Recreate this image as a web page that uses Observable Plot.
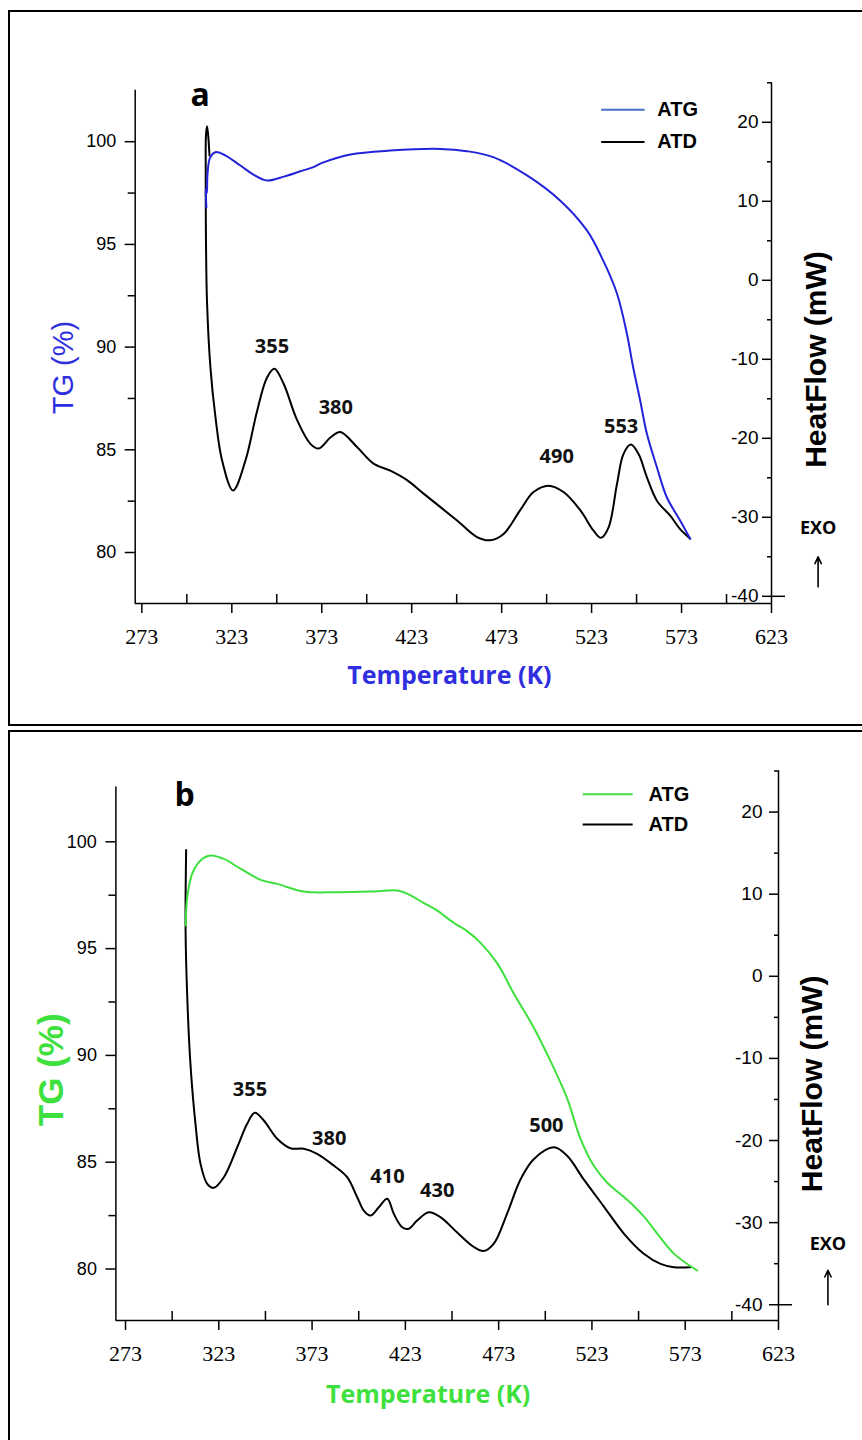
<!DOCTYPE html>
<html><head><meta charset="utf-8">
<script src="https://cdn.jsdelivr.net/npm/d3@7"></script>
<script src="https://cdn.jsdelivr.net/npm/@observablehq/plot@0.6"></script>
<style>
html,body{margin:0;padding:0;background:#fff;width:862px;height:1440px;overflow:hidden;}
.box{position:absolute;border:2px solid #000;box-sizing:border-box;}
.panel{position:absolute;left:0;}
</style></head><body>
<div class="box" style="left:8px;top:10px;width:900px;height:716px"></div>
<div class="box" style="left:8px;top:730px;width:900px;height:800px"></div>
<div id="a" class="panel" style="top:0"></div>
<div id="b" class="panel" style="top:728px"></div>
<script>
// ---------- data ----------
const xMajorTicks = [273, 323, 373, 423, 473, 523, 573, 623];
const xMinorTicks = [298, 348, 398, 448, 498, 548, 598];
const tgMajorTicks = [80, 85, 90, 95, 100];
const tgMinorTicks = [82.5, 87.5, 92.5, 97.5];
const hfMajorTicks = [20, 10, 0, -10, -20, -30, -40];
const hfMinorTicks = [25, 15, 5, -5, -15, -25, -35];
const seriesNames = ["ATG", "ATD"];

// panel a : [T (K), TG (%)]
const atgA = [[308.9,96.8],[308.5,97.7],[309.1,97.5],[309.4,98.3],[310.2,99.0],[311.1,99.26],[313.9,99.49],[319,99.35],[327.8,98.84],[335,98.4],[342.6,98.11],[352,98.3],[361.1,98.56],[368,98.75],[373.2,98.97],[388.9,99.38],[411.1,99.57],[438.9,99.65],[453.7,99.54],[468.3,99.25],[487.1,98.36],[505.6,97.13],[520.4,95.68],[529.4,94.22],[537.1,92.61],[542.6,90.66],[546.1,89.02],[550.0,87.40],[553.7,85.79],[559.3,84.15],[564.8,82.69],[572.2,81.56],[577.8,80.67]];
// panel a : [T (K), HeatFlow (mW)]
const atdA = [[310.6,15.8],[309.8,18.5],[309.2,19.5],[308.6,18.2],[308.5,14],[308.5,10.1],[308.7,3.8],[309.2,-2.6],[311.1,-11.0],[313.9,-17.3],[317.6,-22.8],[323.7,-26.6],[330.6,-22.8],[337.1,-16.5],[342.6,-12.3],[346.7,-11.2],[351.8,-13.1],[359.3,-17.7],[366.7,-20.7],[371.3,-21.3],[377.8,-19.9],[383.3,-19.2],[392.6,-21.1],[401.8,-23.2],[411.1,-24.1],[420.4,-25.3],[429.6,-27.0],[448.2,-30.4],[459.3,-32.5],[466.7,-32.9],[474.1,-32.1],[483.3,-29.1],[490.7,-26.8],[499.1,-26.0],[507.4,-26.8],[516.7,-29.1],[524.1,-31.7],[528.2,-32.6],[532.4,-31.3],[537.1,-25.8],[540.7,-22.0],[544.8,-20.8],[549.1,-22.0],[553.7,-24.9],[559.3,-27.9],[566.7,-29.8],[572.2,-31.5],[577.8,-32.7]];
// peak labels a : [T, HF, label]
const peaksA = [[345.3,-9.2,"355"],[380.8,-16.9,"380"],[503.6,-23.1,"490"],[539.4,-19.3,"553"]];

// panel b
const atgB = [[305.2,96.08],[306.1,97.41],[308.7,98.50],[313.2,99.13],[318.6,99.36],[325.7,99.20],[334.6,98.74],[345.4,98.22],[354.3,98.03],[368.6,97.67],[386.5,97.64],[404.3,97.67],[418.6,97.72],[424.0,97.57],[432.9,97.13],[440.1,96.78],[449.0,96.20],[456.1,95.82],[463.3,95.27],[472.2,94.32],[481.1,92.90],[491.8,91.31],[500.8,89.73],[509.7,87.99],[516.9,86.09],[524.0,84.83],[531.2,84.04],[541.9,83.24],[550.8,82.46],[558.0,81.66],[566.9,80.72],[579.4,79.93]];
const atdB = [[305.5,15.38],[305.2,5.58],[306.1,-2.55],[307.8,-10.66],[310.5,-17.97],[313.2,-22.84],[316.8,-25.27],[320.3,-25.76],[325.7,-24.47],[332.9,-20.82],[338.2,-17.97],[342.3,-16.63],[347.1,-17.56],[354.3,-19.79],[361.4,-20.94],[368.6,-21.01],[375.7,-21.62],[384.6,-23.05],[391.8,-24.47],[397.2,-26.91],[400.7,-28.53],[404.3,-29.14],[408.8,-28.12],[413.3,-27.10],[416.8,-28.93],[421.3,-30.56],[424.8,-30.75],[429.3,-29.74],[435.6,-28.73],[441.8,-29.34],[450.8,-31.21],[459.7,-32.97],[465.0,-33.46],[470.4,-32.56],[477.6,-28.86],[484.7,-24.74],[491.8,-22.27],[502.6,-20.83],[509.7,-21.86],[518.6,-24.74],[529.4,-28.04],[540.1,-31.33],[550.8,-33.79],[559.8,-35.03],[566.9,-35.43],[575.8,-35.43]];
const peaksB = [[339.7,-14.6,"355"],[382.2,-20.6,"380"],[413.4,-25.2,"410"],[440.1,-26.9,"430"],[498.6,-19.0,"500"]];

// ---------- drawing ----------
const SANS = "'Liberation Sans', Arial, sans-serif";
const SERIF = "'Liberation Serif', 'Times New Roman', serif";
const OPEN = "'Open Sans', 'Liberation Sans', sans-serif";

function panel(o) {
  const hf2tg = d3.scaleLinear().domain(o.hfDomain).range(o.tgDomain);
  const xMin = o.xDomain[0], xMax = o.xDomain[1], yMin = o.tgDomain[0];
  const ax = {stroke: "#000", strokeWidth: 1.5};
  const legendRows = seriesNames.map((n, i) => ({name: n, hf: o.legend.hf[i], color: i === 0 ? o.legendColor : "#000"}));
  return Plot.plot({
    width: 862, height: o.height,
    marginTop: o.mt, marginBottom: o.mb, marginLeft: o.ml, marginRight: o.mr,
    x: {domain: o.xDomain},
    y: {domain: o.tgDomain},
    style: {background: "transparent", overflow: "visible", color: "#000"},
    marks: [
      // axis lines
      Plot.ruleY([yMin], ax),
      Plot.ruleX([xMin], {y1: yMin, y2: o.leftTop, ...ax}),
      Plot.ruleX([xMax], ax),
      // x axis
      Plot.axisX({ticks: xMajorTicks, anchor: "bottom", tickSize: 10, tickPadding: o.xPad, fontSize: 22, fontFamily: SERIF, tickFormat: d => String(d), label: null, strokeWidth: 1.5}),
      Plot.axisX({ticks: xMinorTicks, anchor: "bottom", tickSize: 9, dy: -9, tickFormat: () => "", label: null, strokeWidth: 1.5}),
      // left axis
      Plot.axisY({ticks: tgMajorTicks, anchor: "left", tickSize: 10, tickPadding: o.yPad, fontSize: 18, fontFamily: SANS, tickFormat: d => String(d), label: null, strokeWidth: 1.5}),
      Plot.axisY({ticks: tgMinorTicks, anchor: "left", tickSize: 7, tickFormat: () => "", label: null, strokeWidth: 1.5}),
      // right axis (heat flow)
      Plot.axisY({ticks: hfMajorTicks.map(hf2tg), anchor: "right", tickSize: 10, dx: -10, tickFormat: () => "", label: null, strokeWidth: 1.5}),
      Plot.axisY({ticks: hfMinorTicks.map(hf2tg), anchor: "right", tickSize: 5, dx: -5, tickFormat: () => "", label: null, strokeWidth: 1.5}),
      Plot.axisY({ticks: [hf2tg(-40)], anchor: "right", tickSize: 13, tickFormat: () => "", label: null, strokeWidth: 1.5}),
      Plot.axisY({ticks: hfMajorTicks.map(hf2tg), anchor: "right", tickSize: 0, tickPadding: 0, dx: -o.rPad, textAnchor: "end", fontSize: 19, fontFamily: SANS, tickFormat: d => String(Math.round(hf2tg.invert(d))), label: null}),
      // curves
      Plot.line(o.atd, {x: d => d[0], y: d => hf2tg(d[1]), stroke: "#000", strokeWidth: 2, curve: "catmull-rom"}),
      Plot.line(o.atg, {x: d => d[0], y: d => d[1], stroke: o.color, strokeWidth: 2, curve: "catmull-rom"}),
      // peak labels
      Plot.text(o.peaks, {x: d => d[0], y: d => hf2tg(d[1]), text: d => d[2], lineAnchor: "bottom", fontSize: 20, fontWeight: 700, fontFamily: OPEN, fill: "#111"}),
      // legend
      Plot.ruleY(legendRows, {x1: o.legend.x1, x2: o.legend.x2, y: d => hf2tg(d.hf), stroke: d => d.color, strokeWidth: 2}),
      Plot.text(legendRows, {x: o.legend.xt, y: d => hf2tg(d.hf), text: "name", textAnchor: "start", lineAnchor: "middle", fontSize: 20, fontWeight: 700, fontFamily: SANS, fill: "#000"}),
      // panel letter
      Plot.text([o.letter], {x: o.letterPos[0], y: hf2tg(o.letterPos[1]), text: d => d, textAnchor: "start", lineAnchor: "bottom", fontSize: 32, fontWeight: 700, fontFamily: OPEN}),
      // EXO
      Plot.text(["EXO"], {x: o.exo[0], y: hf2tg(o.exo[1]), text: d => d, lineAnchor: "middle", fontSize: 18, fontWeight: 700, fontFamily: OPEN}),
      Plot.arrow([0], {x1: o.exo[0], x2: o.exo[0], y1: hf2tg(o.exo[2]), y2: hf2tg(o.exo[3]), stroke: "#000", strokeWidth: 1.6, headLength: 7, headAngle: 50}),
      // axis titles
      Plot.text(["TG (%)"], {frameAnchor: "left", dx: o.tgTitle.dx, dy: o.tgTitle.dy, rotate: -90, lineAnchor: "middle", textAnchor: "middle", fontSize: o.tgTitle.size, fontWeight: o.tgTitle.weight, fontFamily: SANS, fill: o.textColor}),
      Plot.text(["HeatFlow (mW)"], {frameAnchor: "right", dx: o.hfTitle.dx, dy: o.hfTitle.dy, rotate: -90, lineAnchor: "middle", textAnchor: "middle", fontSize: 30, fontWeight: 700, fontFamily: SANS, fill: "#000"}),
      Plot.text(["Temperature (K)"], {frameAnchor: "bottom", dx: o.tTitle.dx, dy: o.tTitle.dy, lineAnchor: "middle", textAnchor: "middle", fontSize: 25, fontWeight: 700, fontFamily: OPEN, fill: o.textColor})
    ]
  });
}

document.getElementById("a").append(panel({
  height: 724, mt: 83, mb: 121, ml: 134.7, mr: 91,
  xDomain: [269.3, 623], tgDomain: [77.517, 102.834], hfDomain: [-40.91, 24.91], leftTop: 102.5,
  xPad: 15, yPad: 9, rPad: 13,
  atg: atgA, atd: atdA, peaks: peaksA, color: "#2323da", legendColor: "#4472c4", textColor: "#2f2fe0",
  legend: {x1: 528.6, x2: 552.7, xt: 559.5, hf: [21.6, 17.5]},
  letter: "a", letterPos: [300, 22.1],
  exo: [648.9, -31.4, -38.8, -35.0],
  tgTitle: {dx: -71, dy: 24, size: 29, weight: 400},
  hfTitle: {dx: 45, dy: 16},
  tTitle: {dx: -4, dy: 72}
}));

document.getElementById("b").append(panel({
  height: 712, mt: 42.6, mb: 120, ml: 115.4, mr: 84,
  xDomain: [267.85, 623], tgDomain: [77.589, 103.31], hfDomain: [-41.92, 24.99], leftTop: 102.56,
  xPad: 15, yPad: 9, rPad: 16,
  atg: atgB, atd: atdB, peaks: peaksB, color: "#3ee03e", legendColor: "#44dd44", textColor: "#3ee03e",
  legend: {x1: 518.3, x2: 545.1, xt: 553.3, hf: [22.17, 18.49]},
  letter: "b", letterPos: [299.3, 20.8],
  exo: [649.5, -32.6, -40.0, -35.8],
  tgTitle: {dx: -64, dy: 24, size: 35, weight: 700},
  hfTitle: {dx: 34, dy: 38},
  tTitle: {dx: -19, dy: 74}
}));
</script>
</body></html>
